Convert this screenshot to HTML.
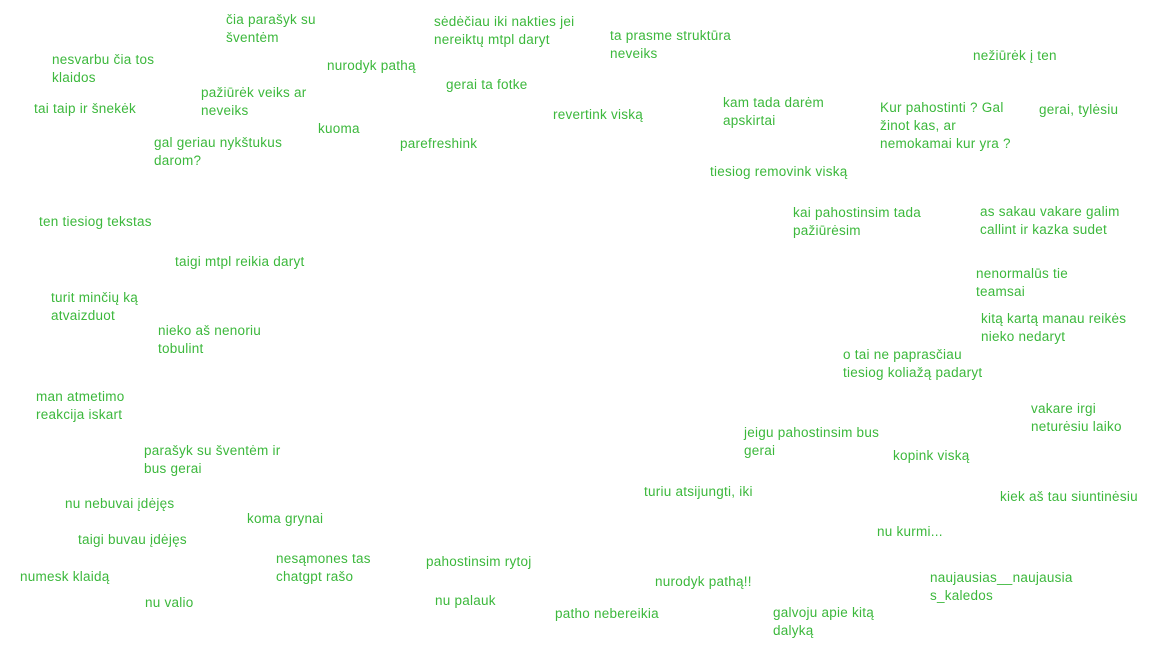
<!DOCTYPE html>
<html><head><meta charset="utf-8"><style>
html,body{margin:0;padding:0;background:#fff;width:1152px;height:648px;overflow:hidden}
body{position:relative;font-family:"Liberation Sans","DejaVu Sans",sans-serif;font-size:13.5px;letter-spacing:0.25px;line-height:18px;color:#3cb83c}
div{position:absolute;white-space:nowrap}
</style></head><body>
<div style="left:226px;top:11px">čia parašyk su<br>šventėm</div>
<div style="left:434px;top:13px">sėdėčiau iki nakties jei<br>nereiktų mtpl daryt</div>
<div style="left:610px;top:27px">ta prasme struktūra<br>neveiks</div>
<div style="left:52px;top:51px">nesvarbu čia tos<br>klaidos</div>
<div style="left:327px;top:57px">nurodyk pathą</div>
<div style="left:973px;top:47px">nežiūrėk į ten</div>
<div style="left:446px;top:76px">gerai ta fotke</div>
<div style="left:201px;top:84px">pažiūrėk veiks ar<br>neveiks</div>
<div style="left:34px;top:100px">tai taip ir šnekėk</div>
<div style="left:553px;top:106px">revertink viską</div>
<div style="left:723px;top:94px">kam tada darėm<br>apskirtai</div>
<div style="left:880px;top:99px">Kur pahostinti ? Gal<br>žinot kas, ar<br>nemokamai kur yra ?</div>
<div style="left:1039px;top:101px">gerai, tylėsiu</div>
<div style="left:318px;top:120px">kuoma</div>
<div style="left:154px;top:134px">gal geriau nykštukus<br>darom?</div>
<div style="left:400px;top:135px">parefreshink</div>
<div style="left:710px;top:163px">tiesiog removink viską</div>
<div style="left:793px;top:204px">kai pahostinsim tada<br>pažiūrėsim</div>
<div style="left:980px;top:203px">as sakau vakare galim<br>callint ir kazka sudet</div>
<div style="left:39px;top:213px">ten tiesiog tekstas</div>
<div style="left:175px;top:253px">taigi mtpl reikia daryt</div>
<div style="left:976px;top:265px">nenormalūs tie<br>teamsai</div>
<div style="left:51px;top:289px">turit minčių ką<br>atvaizduot</div>
<div style="left:981px;top:310px">kitą kartą manau reikės<br>nieko nedaryt</div>
<div style="left:158px;top:322px">nieko aš nenoriu<br>tobulint</div>
<div style="left:843px;top:346px">o tai ne paprasčiau<br>tiesiog koliažą padaryt</div>
<div style="left:36px;top:388px">man atmetimo<br>reakcija iskart</div>
<div style="left:1031px;top:400px">vakare irgi<br>neturėsiu laiko</div>
<div style="left:744px;top:424px">jeigu pahostinsim bus<br>gerai</div>
<div style="left:893px;top:447px">kopink viską</div>
<div style="left:144px;top:442px">parašyk su šventėm ir<br>bus gerai</div>
<div style="left:644px;top:483px">turiu atsijungti, iki</div>
<div style="left:1000px;top:488px">kiek aš tau siuntinėsiu</div>
<div style="left:65px;top:495px">nu nebuvai įdėjęs</div>
<div style="left:247px;top:510px">koma grynai</div>
<div style="left:877px;top:523px">nu kurmi...</div>
<div style="left:78px;top:531px">taigi buvau įdėjęs</div>
<div style="left:276px;top:550px">nesąmones tas<br>chatgpt rašo</div>
<div style="left:426px;top:553px">pahostinsim rytoj</div>
<div style="left:20px;top:568px">numesk klaidą</div>
<div style="left:930px;top:569px">naujausias__naujausia<br>s_kaledos</div>
<div style="left:655px;top:573px">nurodyk pathą!!</div>
<div style="left:145px;top:594px">nu valio</div>
<div style="left:435px;top:592px">nu palauk</div>
<div style="left:555px;top:605px">patho nebereikia</div>
<div style="left:773px;top:604px">galvoju apie kitą<br>dalyką</div>
</body></html>
